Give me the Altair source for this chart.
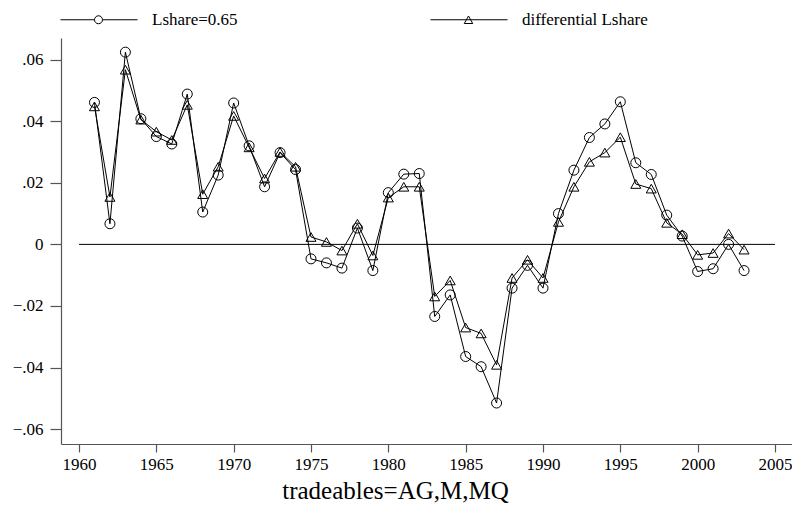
import altair as alt
import pandas as pd

years = list(range(1961, 2004))
lshare_065 = [0.0461, 0.0067, 0.0624, 0.0408, 0.0350, 0.0326, 0.0488, 0.0105, 0.0225, 0.0459,
              0.0320, 0.0187, 0.0298, 0.0243, -0.0047, -0.0060, -0.0077, 0.0053, -0.0085, 0.0168,
              0.0228, 0.0230, -0.0234, -0.0164, -0.0364, -0.0397, -0.0515, -0.0142, -0.0068, -0.0142,
              0.0100, 0.0241, 0.0347, 0.0391, 0.0463, 0.0265, 0.0227, 0.0095, 0.0027, -0.0088,
              -0.0079, 0.0000, -0.0085]
diff_lshare = [0.0448, 0.0154, 0.0567, 0.0405, 0.0366, 0.0339, 0.0453, 0.0163, 0.0252, 0.0417,
               0.0315, 0.0214, 0.0300, 0.0252, 0.0024, 0.0008, -0.0020, 0.0067, -0.0036, 0.0152,
               0.0187, 0.0187, -0.0169, -0.0117, -0.0270, -0.0289, -0.0391, -0.0109, -0.0050, -0.0109,
               0.0073, 0.0187, 0.0268, 0.0298, 0.0348, 0.0196, 0.0181, 0.0070, 0.0033, -0.0034,
               -0.0028, 0.0035, -0.0017]
series_names = ["Lshare=0.65", "differential Lshare"]
x_ticks = [1960, 1965, 1970, 1975, 1980, 1985, 1990, 1995, 2000, 2005]
y_ticks = [-0.06, -0.04, -0.02, 0.0, 0.02, 0.04, 0.06]
zero_line_years = [1960, 2005]
title_text = "tradeables=AG,M,MQ"

df = pd.DataFrame({
    "year": years * 2,
    "value": lshare_065 + diff_lshare,
    "series": [series_names[0]] * len(years) + [series_names[1]] * len(years),
})
zero_df = pd.DataFrame({"x": [zero_line_years[0]], "x2": [zero_line_years[1]], "y": [0.0]})

FONT = "Liberation Serif, Times New Roman, serif"
xscale = alt.Scale(domain=[1958.836, 2006.1], nice=False, zero=False)
yscale = alt.Scale(domain=[-0.0648, 0.067], nice=False, zero=False)

xenc = alt.X("year:Q", scale=xscale,
             axis=alt.Axis(values=x_ticks, format="d", grid=False, tickSize=8, labelPadding=4,
                           labelFont=FONT, labelFontSize=17,
                           title=title_text, titleFont=FONT, titleFontSize=25, titleFontWeight="normal",
                           titleX=334, titleY=54, titleAlign="center", titleBaseline="alphabetic",
                           titleColor="black"))
yenc = alt.Y("value:Q", scale=yscale,
             axis=alt.Axis(values=y_ticks, grid=False, tickSize=11, labelPadding=7, title=None,
                           labelFont=FONT, labelFontSize=17,
                           labelExpr="abs(datum.value) < 1e-9 ? '0' : replace(format(datum.value, '.2f'), '0.', '.')"))

base = alt.Chart(df)

zero_rule = alt.Chart(zero_df).mark_rule(color="black", strokeWidth=1).encode(
    x=alt.X("x:Q", scale=xscale), x2="x2:Q", y=alt.Y("y:Q", scale=yscale))

lines = base.mark_line(color="black", strokeWidth=1).encode(
    x=xenc, y=yenc, detail="series:N")

circles = base.transform_filter(alt.datum.series == series_names[0]).mark_point(
    shape="circle", size=100, filled=False, color="black", strokeWidth=1, opacity=1).encode(
    x=xenc, y=yenc)

triangles = base.transform_filter(alt.datum.series == series_names[1]).mark_point(
    shape="triangle-up", size=100, filled=False, color="black", strokeWidth=1, opacity=1).encode(
    x=xenc, y=yenc)

legend_paths = [
    "M-7.6,0L-0.8,0A0.8,0.8,0,1,0,0.8,0A0.8,0.8,0,1,0,-0.8,0M0.8,0L7.8,0",
    "M-7.6,0L7.8,0M0,-0.75L-0.85,0.75L0.85,0.75Z",
]

legend_layer = base.mark_point(filled=False, color="black", strokeWidth=1, opacity=0, size=100).encode(
    x=xenc, y=yenc,
    shape=alt.Shape("series:N", scale=alt.Scale(domain=series_names, range=legend_paths),
                    legend=alt.Legend(orient="none", legendX=29, legendY=-27, direction="horizontal",
                                      columns=2, columnPadding=190, title=None, padding=0,
                                      labelFont=FONT, labelFontSize=17, labelColor="black",
                                      labelOffset=45, symbolSize=100, symbolOpacity=1,
                                      symbolStrokeColor="black", symbolFillColor="transparent",
                                      symbolStrokeWidth=1)))

chart = alt.layer(zero_rule, lines, circles, triangles, legend_layer).properties(
    width=731, height=406,
    autosize=alt.AutoSizeParams(type="none"),
    padding={"left": 53, "top": 30, "right": 0, "bottom": 63},
).configure_view(stroke=None).configure_axis(
    labelFont=FONT, labelFontSize=17, labelColor="black",
    domainColor="#555555", tickColor="#555555", domainWidth=1.2, tickWidth=1.2,
)

chart.save("out.html", embed_options={"renderer": "svg", "actions": False})
